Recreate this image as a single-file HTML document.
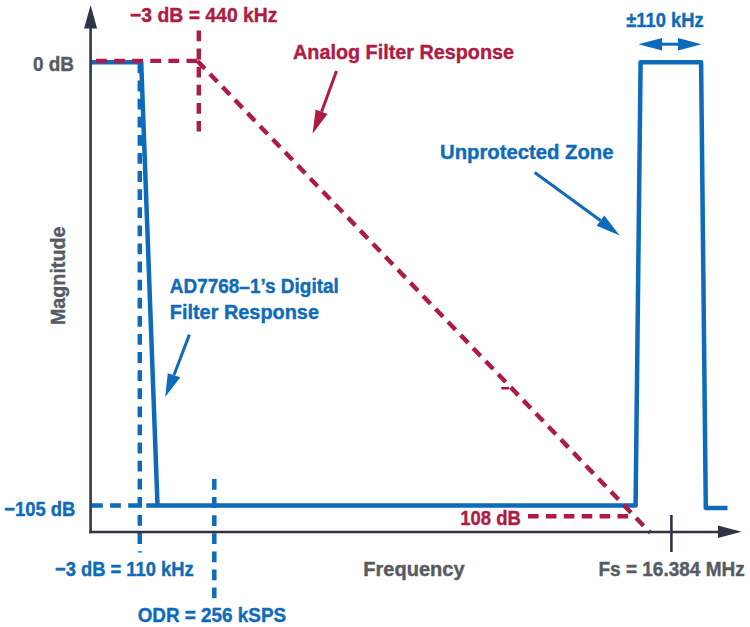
<!DOCTYPE html>
<html>
<head>
<meta charset="utf-8">
<style>
html,body{margin:0;padding:0;background:#fff;}
body{width:750px;height:627px;overflow:hidden;}
svg{display:block;}
text{font-family:"Liberation Sans",sans-serif;font-weight:bold;font-size:20.5px;stroke-width:0.4px;}
.r{fill:#AE1B44;}
text.r{stroke:#AE1B44;}
.b{fill:#0D6BB9;}
text.b{stroke:#0D6BB9;}
.g{fill:#565B63;}
text.g{stroke:#565B63;}
</style>
</head>
<body>
<svg width="750" height="627" viewBox="0 0 750 627">
<!-- blue dashed -->
<g stroke="#0D6BB9" stroke-width="4.5" fill="none" stroke-dasharray="10.8 7.3">
  <line x1="92" y1="505.4" x2="158" y2="505.4"/>
  <line x1="139.8" y1="62.5" x2="139.8" y2="552.5"/>
  <line x1="214.3" y1="479" x2="214.3" y2="598.3"/>
</g>

<!-- blue solid -->
<g stroke="#0D6BB9" stroke-width="4.5" fill="none" stroke-linejoin="round">
  <polyline points="91.5,62.2 141.2,62.2 157.5,505.4 635.6,505.4 640.6,62.3 701.1,62.3 705.8,507.9 727.5,507.9"/>
</g>

<!-- red dashed -->
<g stroke="#AE1B44" stroke-width="4.4" fill="none" stroke-dasharray="10.8 7.3">
  <line x1="96" y1="60.9" x2="199" y2="60.9"/>
  <line x1="198.8" y1="30.5" x2="198.8" y2="131.5"/>
  <line x1="197.4" y1="60.9" x2="650.4" y2="532.8"/>
  <line x1="528" y1="516.2" x2="629" y2="516.2" stroke-dasharray="10.6 7.3"/>
</g>

<rect x="501.3" y="387" width="7.7" height="2.5" fill="#A8163E"/>
<!-- axes -->
<g stroke="#2F3447" stroke-width="2.6" fill="none">
  <line x1="90.6" y1="26" x2="90.6" y2="533.2"/>
  <line x1="89.3" y1="532" x2="720" y2="532"/>
  <line x1="671.4" y1="515" x2="671.4" y2="552"/>
</g>
<g fill="#2F3447">
  <polygon points="90.6,5 97.1,28.5 84.1,28.5"/>
  <polygon points="741.5,531.8 718,525.5 718,538.1"/>
</g>

<!-- arrows -->
<g stroke="#AE1B44" stroke-width="3" fill="none">
  <line x1="336.5" y1="71" x2="321.6" y2="111.8"/>
</g>
<polygon class="r" points="312.6,133.8 315.6,109.5 327.5,114"/>

<g stroke="#0D6BB9" stroke-width="3" fill="none">
  <line x1="534.7" y1="172.5" x2="600.5" y2="220.5"/>
  <line x1="189.4" y1="334.6" x2="174" y2="375"/>
  <line x1="660" y1="44.2" x2="680" y2="44.2"/>
</g>
<polygon class="b" points="619.7,235.5 604.3,215.4 596.6,225.7"/>
<polygon class="b" points="165.2,397.1 167.8,373.2 180.3,377.3"/>
<polygon class="b" points="638.4,44.2 662,37.9 662,50.5"/>
<polygon class="b" points="701.6,44.2 678,37.9 678,50.5"/>

<!-- texts -->
<text class="r" x="130" y="22.3" textLength="147.5" lengthAdjust="spacingAndGlyphs">−3 dB = 440 kHz</text>
<text class="g" x="33" y="70.7" textLength="41" lengthAdjust="spacingAndGlyphs">0 dB</text>
<text class="r" x="293" y="58.9" textLength="221" lengthAdjust="spacingAndGlyphs">Analog Filter Response</text>
<text class="b" x="626.3" y="27.2" textLength="77.4" lengthAdjust="spacingAndGlyphs">±110 kHz</text>
<text class="b" x="440" y="158.7" textLength="173.5" lengthAdjust="spacingAndGlyphs">Unprotected Zone</text>
<text class="g" transform="translate(64.7,325.1) rotate(-90)" x="0" y="0" textLength="98.6" lengthAdjust="spacingAndGlyphs">Magnitude</text>
<text class="b" x="169.8" y="292.9" textLength="169" lengthAdjust="spacingAndGlyphs">AD7768–1’s Digital</text>
<text class="b" x="169.8" y="318.6" textLength="149.2" lengthAdjust="spacingAndGlyphs">Filter Response</text>
<text class="b" x="4.2" y="515.6" textLength="71.2" lengthAdjust="spacingAndGlyphs">−105 dB</text>
<text class="r" x="460.2" y="525.2" textLength="60.6" lengthAdjust="spacingAndGlyphs">108 dB</text>
<text class="b" x="55" y="576.3" textLength="138.6" lengthAdjust="spacingAndGlyphs">−3 dB = 110 kHz</text>
<text class="g" x="363.3" y="575.9" textLength="101.3" lengthAdjust="spacingAndGlyphs">Frequency</text>
<text class="g" x="598.5" y="575.5" textLength="146.2" lengthAdjust="spacingAndGlyphs">Fs = 16.384 MHz</text>
<text class="b" x="137.7" y="622.1" textLength="148.4" lengthAdjust="spacingAndGlyphs">ODR = 256 kSPS</text>
</svg>
</body>
</html>
